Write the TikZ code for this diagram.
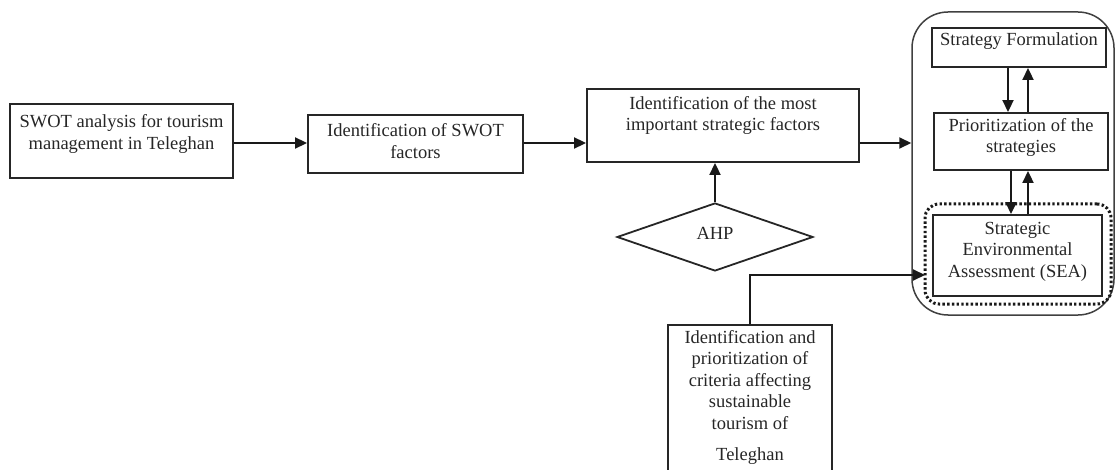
\documentclass[tikz,border=0pt]{standalone}
\usepackage{fontspec}
\setmainfont{Liberation Serif}
\usetikzlibrary{arrows.meta,shapes.geometric}
\tikzset{
  box/.style={draw=black!85, line width=1.9pt, rectangle, inner sep=0pt},
  txt/.style={inner sep=0pt, align=center, font=\fontsize{18.5}{21.5}\selectfont, text=black!85},
  arr/.style={draw=black!90, line width=1.9pt, -{Triangle[length=12pt,width=11pt]}},
  cont/.style={draw=black!75, line width=1.5pt, rectangle, rounded corners=36pt, inner sep=0pt},
  dotbox/.style={draw=black!90, line width=3pt, dash pattern=on 2.4pt off 2.3pt, rectangle, rounded corners=14pt, inner sep=0pt},
  dia/.style={draw=black!85, line width=1.8pt, diamond, inner sep=0pt, aspect=2.88}
}
\begin{document}
\begin{tikzpicture}[x=1pt,y=-1pt]
\useasboundingbox (0,0) rectangle (1115,470);
\clip (0,0) rectangle (1115,470);
% helper coordinates
\coordinate (ya) at (0,143);
\coordinate (xa) at (1008,0);
\coordinate (xb) at (1028,0);
\coordinate (xc) at (1011,0);
\coordinate (seain) at (925,275);
% left boxes
\node[box, minimum width=223pt, minimum height=74pt] (b1) at (121.5,141) {};
\node[txt] (t1) at (121.5,134) {SWOT analysis for tourism\\management in Teleghan};
\node[box, minimum width=215pt, minimum height=58pt] (b2) at (415.5,144) {};
\node[txt] (t2) at (415.5,141) {Identification of SWOT\\factors};
\node[box, minimum width=272pt, minimum height=73pt] (b3) at (723,125.5) {};
\node[txt] (t3) at (723,115.5) {Identification of the most\\important strategic factors};
% AHP
\node[dia, minimum width=196pt, minimum height=68pt] (ahp) at (715,237) {};
\node[txt] (tahp) at (715,233) {AHP};
% container
\node[cont, minimum width=202pt, minimum height=303pt] (cont) at (1013,163.5) {};
\node[box, minimum width=174pt, minimum height=39pt] (sf) at (1019,47.5) {};
\node[txt] (tsf) at (1019,41) {Strategy Formulation};
\node[box, minimum width=174pt, minimum height=57pt] (pr) at (1021,141.5) {};
\node[txt] (tpr) at (1021,137.5) {Prioritization of the\\strategies};
\node[dotbox, minimum width=186pt, minimum height=100pt] (dot) at (1018,254) {};
\node[box, minimum width=169pt, minimum height=81pt] (sea) at (1017.5,255.5) {};
\node[txt] (tsea) at (1017.5,251.5) {Strategic\\Environmental\\Assessment (SEA)};
% criteria box
\node[box, minimum width=164pt, minimum height=170pt] (cr) at (750,410) {};
\node[txt, anchor=north] (tcr) at (750,330) {Identification and\\prioritization of\\criteria affecting\\sustainable\\tourism of\\[10pt]Teleghan};
% connectors
\draw[arr] (b1.east |- ya) -- (b2.west |- ya);
\draw[arr] (b2.east |- ya) -- (b3.west |- ya);
\draw[arr] (b3.east |- ya) -- (cont.west |- ya);
\draw[arr] (ahp.north) -- (b3.south -| ahp.north);
\draw[arr] (cr.north) |- (seain);
\draw[arr] (sf.south -| xa) -- (pr.north -| xa);
\draw[arr] (pr.north -| xb) -- (sf.south -| xb);
\draw[arr] (pr.south -| xc) -- (sea.north -| xc);
\draw[arr] (sea.north -| xb) -- (pr.south -| xb);
\end{tikzpicture}
\end{document}
